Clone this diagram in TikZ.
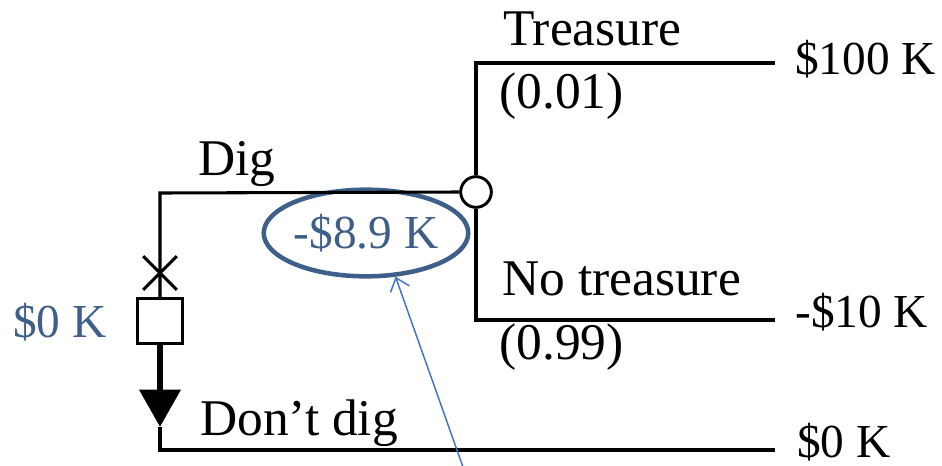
\documentclass[tikz,border=0pt]{standalone}
\usepackage{fontspec}
\setmainfont{Liberation Serif}
\usepackage{xcolor}
\usepackage{tikz}
\usetikzlibrary{positioning, shapes.geometric, shapes.misc, arrows.meta}

\definecolor{evblue}{HTML}{3E5F8A}
\definecolor{ptblue}{HTML}{4472C4}

\begin{document}
\begin{tikzpicture}[
  x=0.75pt, y=-0.75pt,
  branch/.style   ={draw, line width=2.3pt},
  decision/.style ={rectangle, draw, line width=2.2pt, fill=white,
                    minimum width=34pt, minimum height=34pt, inner sep=0pt},
  chance/.style   ={circle, draw, line width=2.2pt, fill=white,
                    minimum size=23pt, inner sep=0pt},
  cut/.style      ={cross out, draw, line width=2.3pt,
                    minimum size=23pt, inner sep=0pt},
  chosen/.style   ={-{Triangle[length=28pt, width=30pt]}, line width=5.2pt},
  tag/.style      ={anchor=base west, inner sep=0pt,
                    font=\fontsize{38.6}{46}\selectfont},
  pay/.style      ={anchor=base west, inner sep=0pt,
                    font=\fontsize{35.5}{42}\selectfont},
  evtext/.style   ={pay, text=evblue},
  ev/.style       ={ellipse, draw=evblue, line width=3.4pt, inner sep=0pt,
                    minimum width=147pt, minimum height=65pt, text=evblue,
                    font=\fontsize{35.5}{42}\selectfont},
  pointer/.style  ={-{Straight Barb[length=9pt, width=15pt]}, ptblue, line width=1.1pt}
]
\useasboundingbox (0,0) rectangle (942,465);

% ---------- Nodes ----------
\node[decision] (dec)  at (160,321) {};
\node[chance]   (risk) at (476,192) {};
\node[cut]      (cut)  at (160,273) {};
\node[ev]       (ev)   at (366,233) {-\$8.9 K};

\coordinate (corner) at (160,193);
\coordinate (tip)    at (160,427);
\coordinate (bend)   at (160,450);
\coordinate (endT)   at (775,63);
\coordinate (endN)   at (775,320);
\coordinate (endZ)   at (775,450);
\coordinate (note)   at (463,467);

% ---------- Branches ----------
\draw[branch] (dec.north)  -- (corner) -- (risk.west);
\draw[branch] (risk.north) |- (endT);
\draw[branch] (risk.south) |- (endN);
\draw[chosen] (dec.south)  -- (tip);
\draw[branch] (tip) -- (bend) -- (endZ);

% ---------- Labels ----------
\node[tag] (lblT)   at (503,45)  {Treasure};
\node[tag] (pT)     at (499,108) {(0.01)};
\node[pay] (payT)   at (795,74)  {\$100 K};
\node[tag] (lblN)   at (502,295) {No treasure};
\node[tag] (pN)     at (499,359) {(0.99)};
\node[pay] (payN)   at (795,327) {-\$10 K};
\node[tag] (lblD)   at (198,175) {Dig};
\node[tag] (lblND)  at (200,435) {Don’t dig};
\node[pay] (payZ)   at (797,457) {\$0 K};
\node[evtext] (evD) at (13,337)  {\$0 K};

% ---------- Pointer ----------
\draw[pointer] (note) -- (ev.-56);

\end{tikzpicture}
\end{document}
